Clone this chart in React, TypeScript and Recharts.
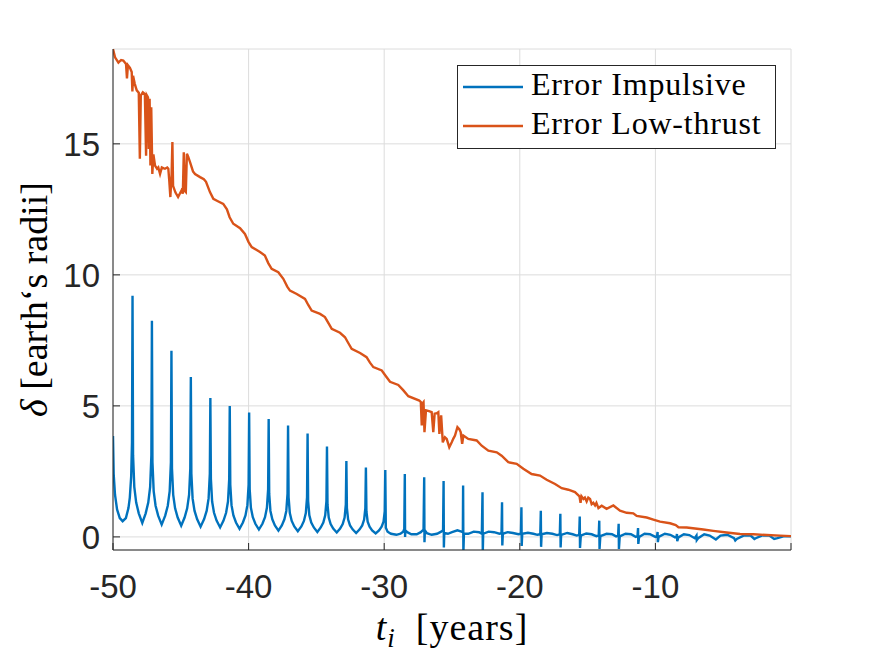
import React from "react";
import {
  LineChart,
  Line,
  XAxis,
  YAxis,
  CartesianGrid,
  Legend,
} from "recharts";

// ================= Data =================
const xTicks = [-50, -40, -30, -20, -10, 0];
const yTicks = [0, 5, 10, 15];

// [t (years), delta (earth radii)]
const impulsivePts: [number, number][] = [
  [-50.0, 3.85], [-49.95, 2.4], [-49.85, 1.6], [-49.7, 1.05], [-49.5, 0.72], [-49.29, 0.6],
  [-49.05, 0.72], [-48.86, 1.1], [-48.76, 1.5], [-48.66, 2.3], [-48.6, 3.6], [-48.56, 9.2],
  [-48.52, 3.11], [-48.43, 1.91], [-48.29, 1.31], [-48.1, 0.9], [-47.84, 0.53], [-47.59, 0.9], [-47.4, 1.31], [-47.26, 1.91], [-47.17, 3.11], [-47.13, 8.25],
  [-47.09, 2.85], [-47.0, 1.75], [-46.86, 1.19], [-46.67, 0.81], [-46.41, 0.47], [-46.15, 0.81], [-45.96, 1.19], [-45.82, 1.75], [-45.73, 2.85], [-45.69, 7.1],
  [-45.65, 2.61], [-45.56, 1.6], [-45.42, 1.09], [-45.23, 0.74], [-44.97, 0.43], [-44.72, 0.74], [-44.53, 1.09], [-44.39, 1.6], [-44.3, 2.61], [-44.26, 6.1],
  [-44.22, 2.41], [-44.13, 1.47], [-43.99, 1.0], [-43.8, 0.68], [-43.54, 0.39], [-43.28, 0.68], [-43.09, 1.0], [-42.95, 1.47], [-42.86, 2.41], [-42.82, 5.3],
  [-42.78, 2.21], [-42.69, 1.35], [-42.55, 0.92], [-42.36, 0.62], [-42.1, 0.36], [-41.85, 0.62], [-41.66, 0.92], [-41.52, 1.35], [-41.43, 2.21], [-41.39, 5.0],
  [-41.35, 1.99], [-41.26, 1.21], [-41.12, 0.82], [-40.93, 0.55], [-40.67, 0.31], [-40.42, 0.55], [-40.23, 0.82], [-40.09, 1.21], [-40.0, 1.99], [-39.96, 4.75],
  [-39.92, 1.82], [-39.83, 1.11], [-39.69, 0.75], [-39.5, 0.5], [-39.24, 0.28], [-38.98, 0.5], [-38.79, 0.75], [-38.65, 1.11], [-38.56, 1.82], [-38.52, 4.5],
  [-38.48, 1.64], [-38.39, 0.99], [-38.25, 0.67], [-38.06, 0.44], [-37.8, 0.24], [-37.55, 0.44], [-37.36, 0.67], [-37.22, 0.99], [-37.13, 1.64], [-37.09, 4.25],
  [-37.05, 1.51], [-36.96, 0.91], [-36.82, 0.61], [-36.63, 0.4], [-36.37, 0.22], [-36.11, 0.4], [-35.92, 0.61], [-35.78, 0.91], [-35.69, 1.51], [-35.65, 3.95],
  [-35.61, 1.37], [-35.52, 0.82], [-35.38, 0.55], [-35.19, 0.36], [-34.93, 0.19], [-34.68, 0.36], [-34.49, 0.55], [-34.35, 0.82], [-34.26, 1.37], [-34.22, 3.45],
  [-34.18, 1.23], [-34.09, 0.74], [-33.95, 0.49], [-33.76, 0.32], [-33.5, 0.17], [-33.25, 0.32], [-33.06, 0.49], [-32.92, 0.74], [-32.83, 1.23], [-32.79, 2.9],
  [-32.75, 1.1], [-32.66, 0.66], [-32.52, 0.44], [-32.33, 0.29], [-32.07, 0.15], [-31.81, 0.29], [-31.62, 0.44], [-31.48, 0.66], [-31.39, 1.1], [-31.35, 2.65],
  [-31.31, 0.97], [-31.22, 0.58], [-31.08, 0.39], [-30.89, 0.25], [-30.63, 0.13], [-30.38, 0.25], [-30.19, 0.39], [-30.05, 0.58], [-29.96, 0.97], [-29.92, 2.55],
  [-29.88, 0.35], [-29.75, 0.2], [-29.5, 0.12], [-29.1, 0.08], [-28.8, 0.12], [-28.6, 0.2], [-28.52, 0.3], [-28.48, 2.4], [-28.46, 0.0],
  [-28.44, 0.25], [-28.3, 0.18], [-28.0, 0.1], [-27.6, 0.1], [-27.3, 0.18], [-27.1, 0.28], [-27.05, 2.28], [-27.03, -0.2],
  [-27.0, 0.25], [-26.85, 0.14], [-26.5, 0.08], [-26.1, 0.12], [-25.8, 0.2], [-25.66, 0.25], [-25.62, 2.13], [-25.6, -0.4],
  [-25.57, 0.15], [-25.3, 0.12], [-25.0, 0.18], [-24.6, 0.25], [-24.3, 0.2], [-24.2, 0.18], [-24.18, 1.96], [-24.16, -0.6],
  [-24.12, 0.12], [-23.8, 0.12], [-23.4, 0.2], [-23.0, 0.18], [-22.8, 0.12], [-22.75, 1.7], [-22.73, -0.6],
  [-22.7, 0.12], [-22.3, 0.2], [-21.9, 0.18], [-21.5, 0.12], [-21.35, 0.14], [-21.31, 1.32], [-21.29, -0.33],
  [-21.25, 0.12], [-20.9, 0.18], [-20.5, 0.15], [-20.1, 0.1], [-19.92, 0.12], [-19.88, 1.13], [-19.86, -0.35],
  [-19.82, 0.12], [-19.4, 0.16], [-19.0, 0.12], [-18.7, 0.08], [-18.49, 0.1], [-18.45, 1.0], [-18.43, -0.38],
  [-18.39, 0.1], [-18.0, 0.15], [-17.6, 0.12], [-17.25, 0.07], [-17.05, 0.1], [-17.01, 0.88], [-16.99, -0.4],
  [-16.95, 0.08], [-16.5, 0.15], [-16.1, 0.1], [-15.8, 0.05], [-15.62, 0.08], [-15.58, 0.78], [-15.56, -0.42],
  [-15.5, 0.05], [-15.1, 0.13], [-14.7, 0.1], [-14.35, 0.03], [-14.18, 0.06], [-14.14, 0.62], [-14.12, -0.46],
  [-14.06, 0.03], [-13.6, 0.12], [-13.2, 0.1], [-12.9, 0.02], [-12.75, 0.05], [-12.71, 0.5], [-12.69, -0.46],
  [-12.63, 0.02], [-12.2, 0.12], [-11.8, 0.1], [-11.45, 0.0], [-11.32, 0.03], [-11.28, 0.34], [-11.26, -0.27],
  [-11.2, 0.0], [-10.8, 0.12], [-10.4, 0.1], [-10.0, 0.0], [-9.88, 0.02], [-9.84, 0.19], [-9.82, -0.2],
  [-9.76, 0.0], [-9.3, 0.12], [-8.9, 0.08], [-8.55, -0.02], [-8.45, 0.0], [-8.41, 0.11], [-8.39, -0.16],
  [-8.3, -0.02], [-7.9, 0.1], [-7.5, 0.07], [-7.1, -0.05], [-6.97, 0.05], [-6.95, -0.12],
  [-6.85, -0.05], [-6.4, 0.1], [-6.0, 0.05], [-5.6, -0.08], [-5.54, -0.1],
  [-5.2, 0.05], [-4.7, 0.08], [-4.2, -0.05], [-4.11, -0.14], [-4.0, -0.08],
  [-3.5, 0.05], [-3.0, 0.06], [-2.7, -0.08], [-2.6, -0.05], [-2.1, 0.06], [-1.6, 0.05],
  [-1.24, -0.08], [-1.0, -0.05], [-0.5, 0.03], [0, 0.02],
];

const lowThrustPts: [number, number][] = [
  [-50.0, 18.62], [-49.85, 18.3], [-49.6, 18.1], [-49.4, 18.2], [-49.24, 18.18], [-49.04, 18.05],
  [-48.97, 17.5], [-48.9, 18.0], [-48.75, 17.9], [-48.62, 17.74], [-48.57, 17.0], [-48.52, 17.6],
  [-48.4, 17.3], [-48.25, 17.04], [-48.1, 16.95], [-48.02, 14.43], [-47.95, 16.85], [-47.8, 16.97],
  [-47.65, 16.9], [-47.56, 14.55], [-47.5, 16.85], [-47.42, 16.78], [-47.36, 14.8], [-47.3, 16.72],
  [-47.24, 14.17], [-47.18, 16.4], [-47.1, 13.85], [-47.02, 14.6], [-46.9, 14.17], [-46.75, 14.05],
  [-46.66, 14.1], [-46.53, 13.85], [-46.4, 14.1], [-46.17, 14.05], [-46.0, 14.1], [-45.92, 14.05],
  [-45.85, 13.6], [-45.77, 12.97], [-45.68, 13.8], [-45.62, 15.07], [-45.57, 13.4], [-45.4, 13.15],
  [-45.2, 12.97], [-44.95, 13.22], [-44.85, 13.1], [-44.78, 14.68], [-44.7, 13.2], [-44.63, 13.16],
  [-44.55, 14.62], [-44.45, 14.5], [-44.32, 14.3], [-44.1, 13.95], [-43.95, 13.85], [-43.58, 13.73],
  [-43.3, 13.65], [-43.14, 13.55], [-42.85, 13.16], [-42.6, 12.9], [-42.3, 12.82], [-41.87, 12.71],
  [-41.6, 12.5], [-41.4, 12.2], [-41.13, 11.95], [-40.63, 11.78], [-40.27, 11.56], [-40.0, 11.25],
  [-39.77, 11.06], [-39.16, 10.87], [-38.8, 10.74], [-38.55, 10.45], [-38.3, 10.23], [-37.81, 10.1],
  [-37.44, 9.85], [-37.15, 9.55], [-36.95, 9.4], [-36.45, 9.27], [-35.84, 9.08], [-35.6, 8.85],
  [-35.35, 8.64], [-34.73, 8.51], [-34.37, 8.39], [-34.1, 8.15], [-33.87, 7.94], [-33.26, 7.79],
  [-32.89, 7.62], [-32.65, 7.4], [-32.4, 7.18], [-31.78, 7.02], [-31.3, 6.86], [-31.05, 6.65],
  [-30.8, 6.48], [-30.18, 6.35], [-29.9, 6.15], [-29.57, 5.92], [-28.96, 5.8], [-28.6, 5.6],
  [-28.22, 5.37], [-27.41, 5.2], [-27.3, 5.15], [-27.23, 4.25], [-27.16, 5.1], [-27.1, 5.14],
  [-27.03, 4.0], [-26.92, 4.83], [-26.7, 4.8], [-26.5, 4.76], [-26.38, 4.0], [-26.28, 4.7],
  [-26.12, 4.72], [-26.01, 4.76], [-25.93, 3.93], [-25.8, 4.64], [-25.68, 3.61], [-25.52, 3.8],
  [-25.39, 3.74], [-25.2, 3.42], [-25.02, 3.61], [-24.9, 3.75], [-24.78, 3.87], [-24.6, 4.19],
  [-24.45, 4.1], [-24.36, 4.0], [-24.25, 3.55], [-24.16, 3.87], [-23.8, 3.74], [-23.18, 3.68],
  [-22.81, 3.48], [-22.32, 3.29], [-21.7, 3.23], [-21.34, 3.1], [-20.85, 2.85], [-20.23, 2.79],
  [-19.74, 2.6], [-19.13, 2.4], [-18.51, 2.34], [-18.02, 2.18], [-17.4, 2.02], [-16.91, 1.86],
  [-16.42, 1.8], [-15.93, 1.71], [-15.6, 1.55], [-15.52, 1.3], [-15.45, 1.55], [-15.3, 1.45],
  [-15.2, 1.5], [-15.07, 1.35], [-14.95, 1.5], [-14.82, 1.45], [-14.7, 1.25], [-14.58, 1.3],
  [-14.45, 1.2], [-14.35, 1.3], [-14.2, 1.1], [-13.96, 1.19], [-13.6, 1.07], [-13.1, 1.2],
  [-12.61, 1.0], [-12.12, 0.92], [-11.63, 0.9], [-11.38, 0.8], [-10.64, 0.74], [-10.15, 0.66],
  [-9.66, 0.58], [-8.92, 0.52], [-8.5, 0.45], [-8.3, 0.37], [-7.69, 0.36], [-7.08, 0.32],
  [-6.47, 0.28], [-5.73, 0.23], [-4.75, 0.17], [-3.76, 0.11], [-2.78, 0.1], [-1.79, 0.07],
  [-0.81, 0.05], [0, 0.03],
];

const impulsiveData = impulsivePts.map(([t, v]) => ({ t, v }));
const lowThrustData = lowThrustPts.map(([t, v]) => ({ t, v }));

const BLUE = "#0072BD";
const ORANGE = "#D95319";
const AXIS = "#262626";
const TICK_FONT = "'Liberation Sans', Arial, Helvetica, sans-serif";
const SERIF = "'Liberation Serif', 'Times New Roman', serif";

// ================= Ticks (MATLAB style, pointing inward) =================
const BottomTick = (props: any) => {
  const { x, y, payload } = props;
  return (
    <g>
      <line x1={x} y1={y} x2={x} y2={y - 7} stroke={AXIS} />
      {payload.value !== 0 && (
        <text x={x} y={y + 48} textAnchor="middle" fontFamily={TICK_FONT} fontSize={33} fill={AXIS}>
          {payload.value}
        </text>
      )}
    </g>
  );
};

const LeftTick = (props: any) => {
  const { x, y, payload } = props;
  return (
    <g>
      <line x1={x} y1={y} x2={x + 7} y2={y} stroke={AXIS} />
      <text x={x - 13} y={y + 12} textAnchor="end" fontFamily={TICK_FONT} fontSize={33} fill={AXIS}>
        {payload.value}
      </text>
    </g>
  );
};

const TopTick = (props: any) => {
  const { x, y } = props;
  return <line x1={x} y1={y} x2={x} y2={y + 7} stroke={AXIS} />;
};

const RightTick = (props: any) => {
  const { x, y } = props;
  return <line x1={x} y1={y} x2={x - 7} y2={y} stroke={AXIS} />;
};

const XLabel = (props: any) => {
  const { viewBox } = props;
  const cx = viewBox.x + viewBox.width / 2;
  return (
    <text x={cx} y={viewBox.y + 90} textAnchor="middle" fontFamily={SERIF} fontSize={38} fill="#000" letterSpacing={1}>
      <tspan fontStyle="italic">t</tspan>
      <tspan fontStyle="italic" fontSize={27} dy={7}>i</tspan>
      <tspan dy={-7}>{"\u2002[years]"}</tspan>
    </text>
  );
};

const YLabel = (props: any) => {
  const { viewBox } = props;
  const cy = viewBox.y + viewBox.height / 2;
  return (
    <text
      x={47}
      y={cy}
      transform={`rotate(-90 47 ${cy})`}
      textAnchor="middle"
      fontFamily={SERIF}
      fontSize={38}
      fill="#000"
    >
      <tspan fontStyle="italic">{"\u03B4"}</tspan>
      <tspan>{" [earth\u2018s radii]"}</tspan>
    </text>
  );
};

const LegendBox = () => (
  <svg width={320} height={86} style={{ display: "block" }}>
    <rect x={0.5} y={0.5} width={318} height={83} fill="#fff" stroke={AXIS} />
    <line x1={6} y1={22} x2={66} y2={22} stroke={BLUE} strokeWidth={2.4} />
    <text x={74} y={30} fontFamily={SERIF} fontSize={32} letterSpacing={0.8} fill="#000">
      Error Impulsive
    </text>
    <line x1={6} y1={61} x2={66} y2={61} stroke={ORANGE} strokeWidth={2.4} />
    <text x={74} y={69} fontFamily={SERIF} fontSize={32} letterSpacing={0.8} fill="#000">
      Error Low-thrust
    </text>
  </svg>
);

// ================== Chart ==================
const App = () => {
  return (
    <div style={{ position: "absolute", left: 0, top: 0, width: 875, height: 656, background: "#fff" }}>
      <LineChart width={875} height={656} margin={{ top: 49, right: 84, left: 0, bottom: 0 }}>
        <CartesianGrid stroke="#dcdcdc" strokeWidth={1} />
        <XAxis
          type="number"
          dataKey="t"
          domain={[-50, 0]}
          ticks={xTicks}
          interval={0}
          allowDataOverflow
          height={106}
          tickSize={0}
          tickMargin={0}
          tickLine={false}
          axisLine={{ stroke: AXIS }}
          tick={<BottomTick />}
          label={<XLabel />}
        />
        <XAxis
          xAxisId="top"
          orientation="top"
          type="number"
          dataKey="t"
          domain={[-50, 0]}
          ticks={xTicks}
          interval={0}
          allowDataOverflow
          height={0}
          tickSize={0}
          tickMargin={0}
          tickLine={false}
          axisLine={{ stroke: AXIS }}
          tick={<TopTick />}
        />
        <YAxis
          type="number"
          domain={[-0.5, 18.62]}
          ticks={yTicks}
          interval={0}
          allowDataOverflow
          width={113}
          tickSize={0}
          tickMargin={0}
          tickLine={false}
          axisLine={{ stroke: AXIS }}
          tick={<LeftTick />}
          label={<YLabel />}
        />
        <YAxis
          yAxisId="right"
          orientation="right"
          type="number"
          domain={[-0.5, 18.62]}
          ticks={yTicks}
          interval={0}
          allowDataOverflow
          width={0}
          tickSize={0}
          tickMargin={0}
          tickLine={false}
          axisLine={{ stroke: AXIS }}
          tick={<RightTick />}
        />
        <Line
          data={impulsiveData}
          dataKey="v"
          type="linear"
          stroke={BLUE}
          strokeWidth={2.4}
          dot={false}
          isAnimationActive={false}
          name="Error Impulsive"
        />
        <Line
          data={lowThrustData}
          dataKey="v"
          type="linear"
          stroke={ORANGE}
          strokeWidth={2.4}
          dot={false}
          isAnimationActive={false}
          name="Error Low-thrust"
        />
        <Legend
          layout="vertical"
          align="center"
          verticalAlign="middle"
          wrapperStyle={{ left: 457, top: 65, width: 320, height: 86 }}
          content={() => <LegendBox />}
        />
      </LineChart>
    </div>
  );
};

export default App;
